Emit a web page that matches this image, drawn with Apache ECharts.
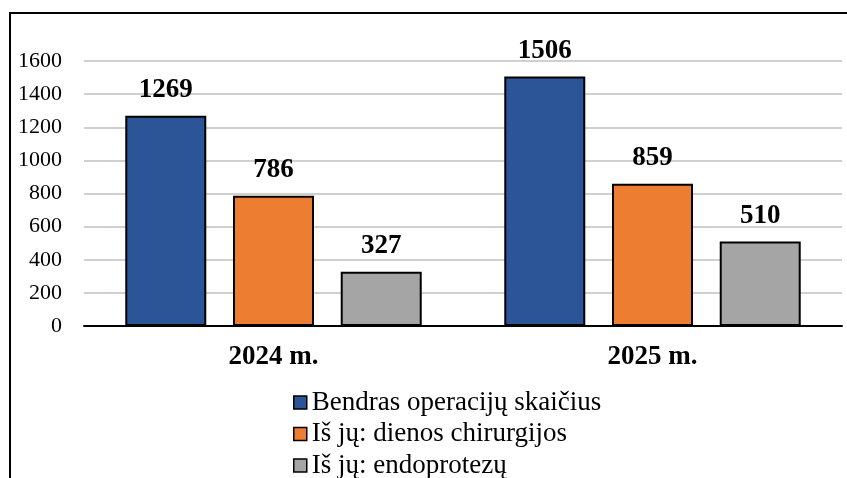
<!DOCTYPE html>
<html>
<head>
<meta charset="utf-8">
<script src="https://cdn.jsdelivr.net/npm/echarts@6/dist/echarts.min.js"></script>
<style>
  html, body { margin: 0; padding: 0; background: #fff; }
  #frame { position: absolute; left: 9px; top: 12px; width: 900px; height: 500px;
           border-left: 2px solid #000; border-top: 2px solid #000; }
  #chart { position: absolute; left: 0; top: 0; width: 847px; height: 478px; }
</style>
</head>
<body>
<div id="frame"></div>
<div id="chart"></div>
<script>
const years = ['2024 m.', '2025 m.'];
const totalOps = [1269, 1506];
const daySurgery = [786, 859];
const endoprosthesis = [327, 510];
const seriesNames = ['Bendras operacijų skaičius', 'Iš jų: dienos chirurgijos', 'Iš jų: endoprotezų'];
const colors = ['#2b5597', '#ed7d31', '#a5a5a5'];

const chart = echarts.init(document.getElementById('chart'));
const font = '"Liberation Serif", "Times New Roman", serif';

const mkSeries = (name, data, color) => ({
  name,
  type: 'bar',
  data,
  barWidth: 81,
  barGap: '33%',
  itemStyle: { color, borderColor: '#000', borderWidth: 2 },
  label: {
    show: true,
    position: 'top',
    distance: 12,
    fontFamily: font,
    fontWeight: 'bold',
    fontSize: 27,
    color: '#000'
  }
});

chart.setOption({
  animation: false,
  textStyle: { fontFamily: font },
  grid: { left: 84, right: 5, top: 61, bottom: 152, containLabel: false },
  xAxis: {
    type: 'category',
    data: years,
    axisLine: { lineStyle: { color: '#000', width: 2 } },
    axisTick: { show: false },
    axisLabel: { fontFamily: font, fontWeight: 'bold', fontSize: 27, color: '#000', margin: 18 }
  },
  yAxis: {
    type: 'value',
    min: 0,
    max: 1600,
    interval: 200,
    axisLine: { show: false },
    axisTick: { show: false },
    splitLine: { lineStyle: { color: '#d0d0d0', width: 2 } },
    axisLabel: { fontFamily: font, fontSize: 22, color: '#000', margin: 22, formatter: v => String(v) }
  },
  legend: {
    orient: 'vertical',
    left: 293,
    top: 389,
    height: 120,
    padding: 0,
    itemWidth: 13,
    itemHeight: 13,
    itemGap: 4.5,
    icon: 'rect',
    itemStyle: { borderColor: '#000', borderWidth: 1.5 },
    textStyle: { fontFamily: font, fontSize: 27, color: '#000', padding: [0, 0, 0, 0] },
    data: seriesNames
  },
  series: [
    mkSeries(seriesNames[0], totalOps, colors[0]),
    mkSeries(seriesNames[1], daySurgery, colors[1]),
    mkSeries(seriesNames[2], endoprosthesis, colors[2])
  ]
});
</script>
</body>
</html>
